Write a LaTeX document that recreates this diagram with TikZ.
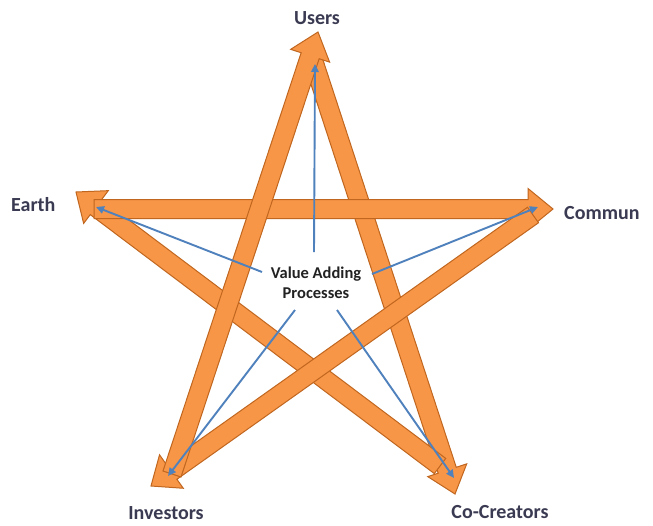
\documentclass[tikz,border=0pt]{standalone}
\usepackage{fontspec}
\setmainfont{Carlito}
\usetikzlibrary{calc,arrows.meta}

\definecolor{arrowfill}{HTML}{F79646}
\definecolor{arrowline}{HTML}{C0661F}
\definecolor{linkblue}{HTML}{4F81BD}
\definecolor{labelgray}{HTML}{3A3A52}
\definecolor{centertext}{HTML}{222222}

% Block arrow from tail #1 to tip #2
\newcommand{\blockarrow}[2]{%
  \coordinate (ba-h) at ($(#2)!25pt!(#1)$);
  \filldraw[orangearrow]
    ($(#1)!9.5pt!90:(#2)$) --
    ($(ba-h)!9.5pt!90:(#2)$) --
    ($(ba-h)!20.5pt!90:(#2)$) --
    (#2) --
    ($(ba-h)!20.5pt!-90:(#2)$) --
    ($(ba-h)!9.5pt!-90:(#2)$) --
    ($(#1)!9.5pt!-90:(#2)$) -- cycle;
}

\begin{document}
\begin{tikzpicture}[x=1pt,y=-1pt,
  orangearrow/.style={fill=arrowfill,draw=arrowline,line width=1pt,line join=miter},
  outerlabel/.style={text=labelgray,font=\bfseries\fontsize{20}{22}\selectfont,inner sep=0pt},
  centerlabel/.style={text=centertext,font=\bfseries\fontsize{16.5}{20.5}\selectfont,align=center,inner sep=0pt},
  bluelink/.style={draw=linkblue,line width=1.9pt,-{Triangle[length=8pt,width=7.5pt]}}]
\useasboundingbox (0,0) rectangle (653,525);
\fill[white] (0,0) rectangle (653,525);

% star vertices (arrow tips)
\coordinate (tU) at (318,32);
\coordinate (tCC) at (455,494);
\coordinate (tE) at (76,192);
\coordinate (tC) at (553,209);
\coordinate (tI) at (151,486);
% arrow tails
\coordinate (sU) at (313,60);
\coordinate (sCC) at (440,466);
\coordinate (sE) at (94,209);
\coordinate (sC) at (533,215);
\coordinate (sI) at (172,474);

% orange star made of five block arrows
\blockarrow{sU}{tCC}
\blockarrow{sCC}{tE}
\blockarrow{sE}{tC}
\blockarrow{sC}{tI}
\blockarrow{sI}{tU}

% labels
\node[outerlabel] (users) at (317,18) {Users};
\node[outerlabel,anchor=west] (earth) at (11,205) {Earth};
\node[outerlabel,anchor=west] (commun) at (564,213) {Commun};
\node[outerlabel] (investors) at (166,513) {Investors};
\node[outerlabel] (cocreators) at (500,512) {Co-Creators};
\node[centerlabel] (vap) at (316,283) {Value Adding\\Processes};

% blue links from the centre
\coordinate (bU0) at (314,252);
\coordinate (bU1) at (315,64);
\coordinate (bE0) at (262,272);
\coordinate (bE1) at (96,207);
\coordinate (bC0) at (372,274);
\coordinate (bC1) at (538,207);
\coordinate (bI0) at (295,310);
\coordinate (bI1) at (168,476);
\coordinate (bCC0) at (337,310);
\coordinate (bCC1) at (454,478);

\draw[bluelink] (bU0) -- (bU1);
\draw[bluelink] (bE0) -- (bE1);
\draw[bluelink] (bC0) -- (bC1);
\draw[bluelink] (bI0) -- (bI1);
\draw[bluelink] (bCC0) -- (bCC1);
\end{tikzpicture}
\end{document}
